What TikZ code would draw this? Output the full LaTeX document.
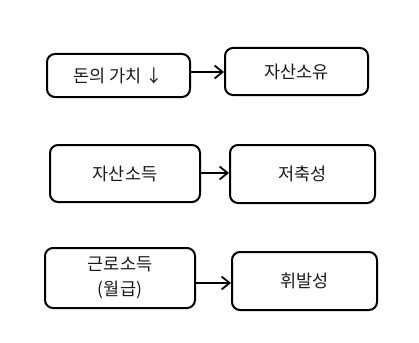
\documentclass[tikz,border=0pt]{standalone}
\usepackage{fontspec}
\setmainfont{Noto Sans CJK KR}
\usetikzlibrary{arrows.meta}
\begin{document}
\begin{tikzpicture}[x=1pt,y=-1pt,
  box/.style={draw=black,line width=2pt,rounded corners=8pt},
  lbl/.style={font=\fontsize{17.5}{25}\selectfont,align=center,text=black!90},
  conn/.style={draw=black,line width=2pt,-{Straight Barb[length=8pt,width=13pt,line width=1.8pt]}}]
\useasboundingbox (0,0) rectangle (419,342);
% row 1
\draw[box] (47,54) rectangle (190,97);
\node[lbl] (a) at (118.5,75.5) {돈의 가치 ↓};
\coordinate (aE) at (191,72);
\draw[box] (225,48) rectangle (368,95);
\node[lbl] (b) at (296.5,71.5) {자산소유};
\coordinate (bW) at (224,72);
\draw[conn] (aE) -- (bW);
% row 2
\draw[box] (50,145) rectangle (200,202);
\node[lbl] (c) at (125,173.5) {자산소득};
\coordinate (cE) at (201,173);
\draw[box] (230,145) rectangle (375,203);
\node[lbl] (d) at (302.5,174) {저축성};
\coordinate (dW) at (229,173);
\draw[conn] (cE) -- (dW);
% row 3
\draw[box] (45,248) rectangle (195,308);
\node[lbl] (e) at (120,277.5) {근로소득\\(월급)};
\coordinate (eE) at (196,283);
\draw[box] (232,252) rectangle (377,310);
\node[lbl] (f) at (304.5,281) {휘발성};
\coordinate (fW) at (231,283);
\draw[conn] (eE) -- (fW);
\end{tikzpicture}
\end{document}
